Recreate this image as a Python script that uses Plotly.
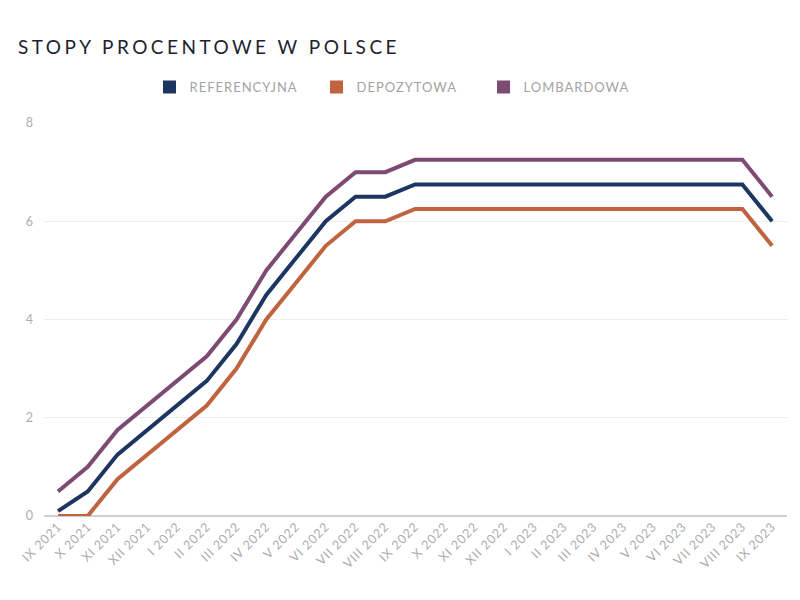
import plotly.graph_objects as go

months = ["IX 2021", "X 2021", "XI 2021", "XII 2021", "I 2022", "II 2022", "III 2022",
          "IV 2022", "V 2022", "VI 2022", "VII 2022", "VIII 2022", "IX 2022", "X 2022",
          "XI 2022", "XII 2022", "I 2023", "II 2023", "III 2023", "IV 2023", "V 2023",
          "VI 2023", "VII 2023", "VIII 2023", "IX 2023"]

referencyjna = [0.1, 0.5, 1.25, 1.75, 2.25, 2.75, 3.5, 4.5, 5.25, 6.0, 6.5, 6.5, 6.75,
                6.75, 6.75, 6.75, 6.75, 6.75, 6.75, 6.75, 6.75, 6.75, 6.75, 6.75, 6.0]
depozytowa = [0.0, 0.0, 0.75, 1.25, 1.75, 2.25, 3.0, 4.0, 4.75, 5.5, 6.0, 6.0, 6.25,
              6.25, 6.25, 6.25, 6.25, 6.25, 6.25, 6.25, 6.25, 6.25, 6.25, 6.25, 5.5]
lombardowa = [0.5, 1.0, 1.75, 2.25, 2.75, 3.25, 4.0, 5.0, 5.75, 6.5, 7.0, 7.0, 7.25,
              7.25, 7.25, 7.25, 7.25, 7.25, 7.25, 7.25, 7.25, 7.25, 7.25, 7.25, 6.5]

series = [
    ("REFERENCYJNA", referencyjna, "#1c3661"),
    ("DEPOZYTOWA", depozytowa, "#c0633f"),
    ("LOMBARDOWA", lombardowa, "#7c4a72"),
]

fig = go.Figure()
for name, vals, col in series:
    fig.add_trace(go.Scatter(x=months, y=vals, mode="lines", name=name,
                             line=dict(color=col, width=4), showlegend=False,
                             hoverinfo="x+y+name"))
for name, vals, col in series:
    fig.add_trace(go.Scatter(x=[None], y=[None], mode="markers", name=name,
                             marker=dict(symbol="square", size=13, color=col),
                             showlegend=True))

fig.update_layout(
    width=800, height=600,
    paper_bgcolor="white", plot_bgcolor="white",
    margin=dict(l=44, r=13, t=123, b=84),
    font=dict(family="Lato", color="#a0a0a0"),
    title=dict(text="STOPY PROCENTOWE W POLSCE", x=18/800, xanchor="left",
               xref="container", y=1-47/600, yanchor="middle", yref="container",
               font=dict(family="Lato", size=19, color="#1e2230")),
    legend=dict(orientation="h", x=0.5, xanchor="center", xref="container",
                y=1-87/600, yanchor="middle", yref="container",
                font=dict(family="Lato", size=13, color="#a3a3a3"),
                entrywidth=122, entrywidthmode="pixels", traceorder="normal"),
    xaxis=dict(type="category", range=[-0.47, 24.5], tickangle=-45,
               showgrid=False, showline=False, zeroline=False,
               tickfont=dict(family="Lato", size=12.5, color="#adadad"),
               ticks=""),
    yaxis=dict(range=[0, 8], tickvals=[0, 2, 4, 6, 8], showgrid=True,
               gridcolor="#ececec", gridwidth=1, zeroline=True,
               zerolinecolor="#cfcfcf", zerolinewidth=1.5,
               tickfont=dict(family="Lato", size=12.5, color="#adadad"),
               ticks="", ticklabelstandoff=10),
)

post = """
var gd = document.getElementById('{plot_id}');
function fixSpacing(){
  var t = gd.querySelector('.gtitle');
  if (t) {
    t.style.letterSpacing = '0px';
    var L = t.getComputedTextLength();
    var n = t.textContent.length;
    t.style.letterSpacing = ((382 - L) / n) + 'px';
  }
  gd.querySelectorAll('.legendtext').forEach(function(e){ e.style.letterSpacing = '1px'; });
  gd.querySelectorAll('.xtick text').forEach(function(e){ e.style.letterSpacing = '0.8px'; });
}
fixSpacing();
"""

fig.write_html("out.html", post_script=post)
